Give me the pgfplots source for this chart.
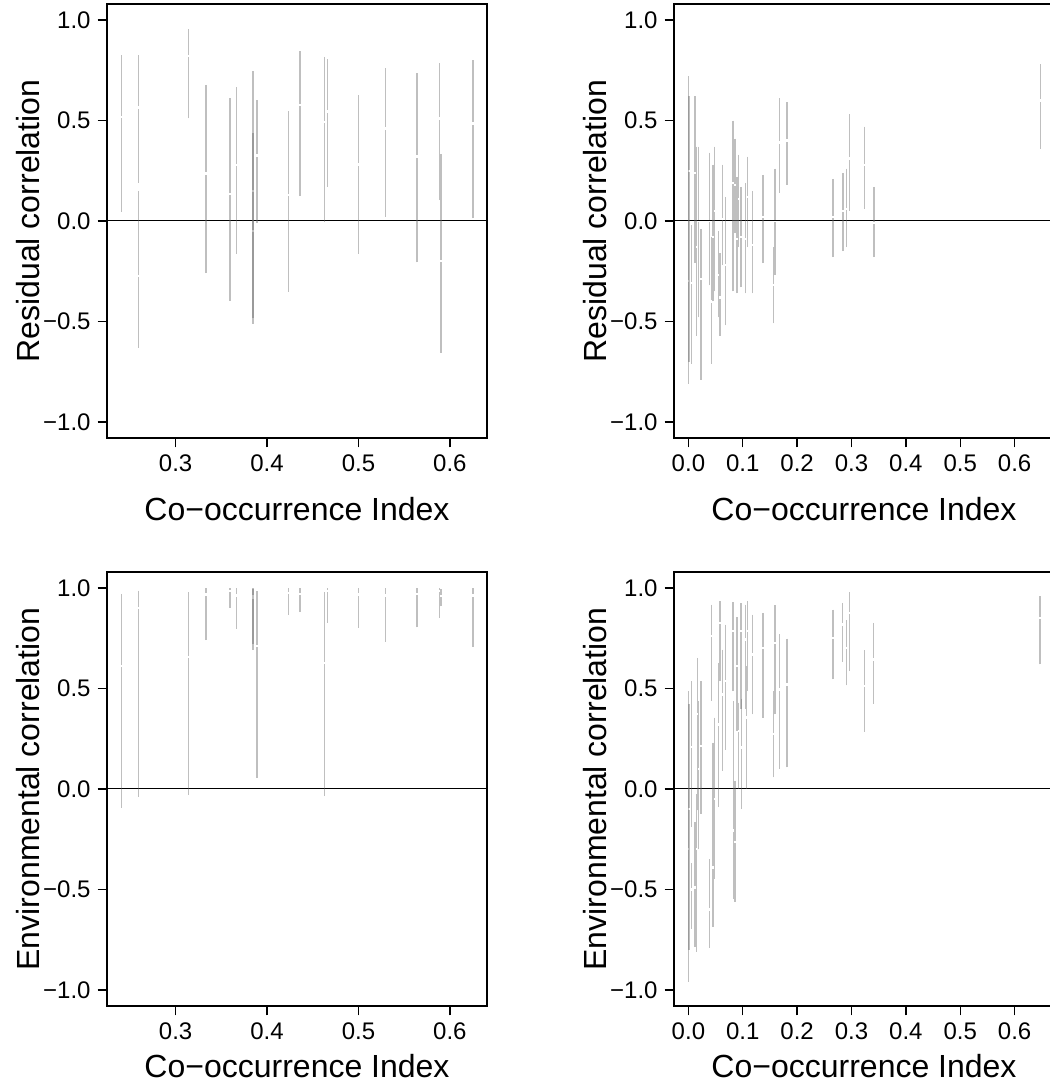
\documentclass[border=0pt]{standalone}
\usepackage{fontspec}
\setmainfont{Liberation Sans}
\usepackage{pgfplots}
\pgfplotsset{compat=1.18}
\usepackage{pgfplotstable}

% x = co-occurrence index, l/m/h = lower, median, upper of interval
\pgfplotstableread{
x l m h
0.2407 0.046 0.519 0.826
0.2594 0.19 0.564 0.826
0.2594 -0.632 -0.274 0.15
0.3143 0.511 0.821 0.955
0.3333 -0.260 0.237 0.677
0.3593 -0.396 0.134 0.610
0.3666 -0.164 0.280 0.665
0.3845 -0.484 0.15 0.746
0.3845 -0.512 -0.05 0.436
0.3889 -0.008 0.325 0.602
0.4233 -0.352 0.129 0.547
0.4361 0.124 0.577 0.846
0.4631 -0.005 0.494 0.817
0.4664 0.171 0.544 0.804
0.4998 -0.164 0.282 0.627
0.5294 0.021 0.461 0.761
0.5641 -0.206 0.320 0.735
0.5887 0.104 0.511 0.785
0.5901 -0.655 -0.198 0.333
0.6252 0.013 0.486 0.801
}\resA

\pgfplotstableread{
x l m h
0.2407 -0.094 0.612 0.971
0.2594 -0.038 0.90 0.987
0.3143 -0.028 0.656 0.980
0.3333 0.741 0.967 1.0
0.3593 0.901 0.985 1.0
0.3666 0.797 0.963 1.0
0.3845 0.694 0.96 1.0
0.3845 0.72 0.95 0.995
0.3889 0.055 0.711 0.984
0.4233 0.868 0.975 1.0
0.4361 0.880 0.97 1.0
0.4631 -0.036 0.628 0.980
0.4664 0.827 0.985 1.0
0.4998 0.802 0.967 1.0
0.5294 0.732 0.963 1.0
0.5641 0.805 0.97 1.0
0.5887 0.852 0.985 1.0
0.5901 0.909 0.96 0.995
0.6252 0.708 0.963 1.0
}\envA

\pgfplotstableread{
x l m h
0.000 -0.81 -0.30 0.72
0.001 -0.70 0.25 0.62
0.006 -0.71 -0.31 -0.02
0.012 -0.21 0.24 0.62
0.015 -0.57 -0.13 0.37
0.019 -0.48 0.00 0.37
0.023 -0.79 -0.29 -0.04
0.039 -0.32 0.00 0.34
0.042 -0.71 -0.40 -0.08
0.045 -0.40 -0.08 0.28
0.048 -0.35 0.05 0.37
0.055 -0.48 -0.27 -0.05
0.058 -0.57 -0.38 -0.16
0.063 -0.22 0.01 0.28
0.068 -0.52 -0.22 0.12
0.082 -0.35 0.19 0.50
0.086 -0.06 0.18 0.41
0.089 -0.36 -0.09 0.22
0.092 -0.13 0.11 0.33
0.097 -0.33 -0.08 0.17
0.105 -0.36 -0.09 0.19
0.109 -0.13 0.12 0.32
0.118 -0.36 -0.12 0.15
0.137 -0.21 0.02 0.23
0.156 -0.51 -0.32 -0.13
0.159 -0.27 0.00 0.26
0.167 0.14 0.39 0.61
0.181 0.18 0.40 0.59
0.266 -0.18 0.02 0.21
0.284 -0.15 0.05 0.24
0.291 -0.13 0.06 0.26
0.296 0.05 0.31 0.53
0.324 0.06 0.28 0.47
0.341 -0.18 -0.01 0.17
0.647 0.36 0.60 0.78
}\resB

\pgfplotstableread{
x l m h
0.000 -0.959 -0.30 0.487
0.001 -0.80 -0.10 0.421
0.006 -0.19 0.21 0.537
0.006 -0.695 -0.50 -0.37
0.012 -0.786 -0.49 -0.165
0.015 -0.81 -0.30 -0.025
0.017 -0.107 0.372 0.653
0.019 -0.30 0.10 0.437
0.023 -0.124 0.215 0.537
0.039 -0.79 -0.60 -0.35
0.042 0.438 0.76 0.918
0.045 -0.686 -0.39 0.231
0.048 -0.446 -0.05 0.355
0.055 -0.09 0.322 0.628
0.058 0.537 0.826 0.934
0.063 0.091 0.471 0.694
0.068 0.196 0.537 0.818
0.082 0.487 0.785 0.93
0.083 -0.546 -0.207 0.438
0.086 -0.56 -0.265 0.04
0.089 0.289 0.611 0.855
0.092 0.0 0.29 0.43
0.097 0.397 0.785 0.925
0.098 -0.1 0.207 0.45
0.105 0.397 0.744 0.918
0.107 0.0 0.355 0.61
0.109 0.487 0.785 0.934
0.118 0.372 0.669 0.868
0.137 0.355 0.702 0.876
0.156 0.058 0.273 0.487
0.159 0.372 0.727 0.914
0.167 0.099 0.496 0.769
0.181 0.107 0.521 0.749
0.2657 0.545 0.752 0.893
0.2836 0.633 0.818 0.926
0.291 0.516 0.703 0.84
0.2959 0.587 0.876 0.98
0.3242 0.286 0.512 0.691
0.3408 0.425 0.645 0.827
0.6465 0.62 0.85 0.96
}\envB

\pgfplotsset{
  panel/.style={
    scale only axis, width=190pt, height=217pt,
    ymin=-1.08, ymax=1.08,
    ytick={-1,-0.5,0,0.5,1},
    yticklabels={−1.0,−0.5,0.0,0.5,1.0},
    tick pos=left, tick align=outside, major tick length=4.7pt,
    axis line style={line width=0.7pt},
    tick style={line width=0.7pt, black},
    ticklabel style={font=\fontsize{12}{14}\selectfont},
    label style={font=\fontsize{16}{19}\selectfont},
    xlabel={Co−occurrence Index},
    ylabel style={at={(axis description cs:-0.208,0.5)}, anchor=center},
    clip=true,
  },
  toprow/.style={xlabel style={at={(axis description cs:0.5,-0.19)}, anchor=base}},
  botrow/.style={xlabel style={at={(axis description cs:0.5,-0.165)}, anchor=base}},
  leftx/.style={xmin=0.2250, xmax=0.6406, xtick={0.3,0.4,0.5,0.6},
    xticklabels={0.3,0.4,0.5,0.6}},
  rightx/.style={xmin=-0.0265, xmax=0.6724, xtick={0,0.1,0.2,0.3,0.4,0.5,0.6},
    xticklabels={0.0,0.1,0.2,0.3,0.4,0.5,0.6}},
  seg/.style={draw=none, mark=none, forget plot,
    error bars/y explicit, error bars/error mark=none,
    error bars/error bar style={draw=black!60, line width=0.7pt, opacity=0.42}},
}

% each interval: lower piece l -> m-gap and upper piece m+gap -> h
\newcommand{\panel}[1]{%
  \addplot[black, line width=0.5pt, forget plot] coordinates {(-1,0) (1,0)};
  \addplot[seg, error bars/y dir=plus] table[x=x, y=l,
    y error plus expr=\thisrow{m}-\thisrow{l}-0.006] {#1};
  \addplot[seg, error bars/y dir=minus] table[x=x, y=h,
    y error minus expr=\thisrow{h}-\thisrow{m}-0.006] {#1};
}

\begin{document}
\begin{tikzpicture}
\begin{axis}[panel, toprow, leftx, at={(53.5pt,324pt)}, anchor=south west,
  ylabel={Residual correlation}]
\panel{\resA}
\end{axis}
\begin{axis}[panel, toprow, rightx, at={(337pt,324pt)}, anchor=south west,
  ylabel={Residual correlation}]
\panel{\resB}
\end{axis}
\begin{axis}[panel, botrow, leftx, at={(53.5pt,40pt)}, anchor=south west,
  ylabel={Environmental correlation}]
\panel{\envA}
\end{axis}
\begin{axis}[panel, botrow, rightx, at={(337pt,40pt)}, anchor=south west,
  ylabel={Environmental correlation}]
\panel{\envB}
\end{axis}
\pgfresetboundingbox
\path[use as bounding box] (0,0) rectangle (524.5pt,543pt);
\end{tikzpicture}
\end{document}
